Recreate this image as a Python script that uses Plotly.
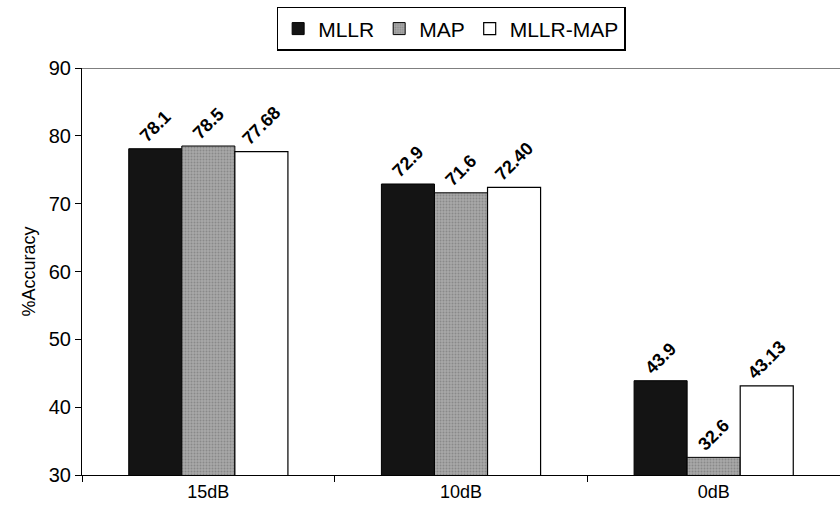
import plotly.graph_objects as go

categories = ["15dB", "10dB", "0dB"]
mllr = [78.1, 72.9, 43.9]
map_ = [78.5, 71.6, 32.6]
mllr_map = [77.68, 72.40, 43.13]
mllr_txt = ["78.1", "72.9", "43.9"]
map_txt = ["78.5", "71.6", "32.6"]
mllr_map_txt = ["77.68", "72.40", "43.13"]
yticks = [30, 40, 50, 60, 70, 80, 90]

FONT = "Arial, Liberation Sans, sans-serif"
fig = go.Figure()
common = dict(textposition="outside", textangle=-45, cliponaxis=False,
              textfont=dict(family="Arial Black, Liberation Sans", size=18, color="black",
                            weight="bold"))
fig.add_bar(name="MLLR", x=categories, y=mllr, text=mllr_txt,
            marker=dict(color="#141414", line=dict(color="black", width=1)), **common)
fig.add_bar(name="MAP", x=categories, y=map_, text=map_txt,
            marker=dict(color="#a4a4a4", line=dict(color="black", width=1),
                        pattern=dict(shape=".", size=3, solidity=0.35,
                                     fgcolor="#6a6a6a", bgcolor="#a8a8a8")), **common)
fig.add_bar(name="MLLR-MAP", x=categories, y=mllr_map, text=mllr_map_txt,
            marker=dict(color="white", line=dict(color="black", width=1.2)), **common)

fig.update_layout(
    width=840, height=518,
    margin=dict(l=82, r=0, t=68, b=43),
    paper_bgcolor="white", plot_bgcolor="white",
    barmode="group", bargap=0.37, bargroupgap=0,
    font=dict(family=FONT, color="black"),
    showlegend=True,
    legend=dict(orientation="h", x=0.487, xanchor="center", y=1.15, yanchor="top",
                bordercolor="black", borderwidth=1.5, font=dict(size=21),
                traceorder="normal", itemwidth=30, tracegroupgap=0),
    xaxis=dict(showline=True, linecolor="black", linewidth=1, ticks="outside",
               tickson="boundaries", ticklen=6, tickcolor="black",
               tickfont=dict(size=18), showgrid=False),
    yaxis=dict(range=[30, 90], tickvals=yticks, showline=True, linecolor="black",
               linewidth=1, ticks="outside", ticklen=6, tickcolor="black",
               tickfont=dict(size=20), showgrid=False, zeroline=False,
               title=dict(text="%Accuracy", font=dict(size=18), standoff=8)),
)
fig.add_shape(type="line", xref="paper", yref="y", x0=0, x1=1, y0=90, y1=90,
              line=dict(color="#555", width=1.5))
fig.write_html("out.html")
